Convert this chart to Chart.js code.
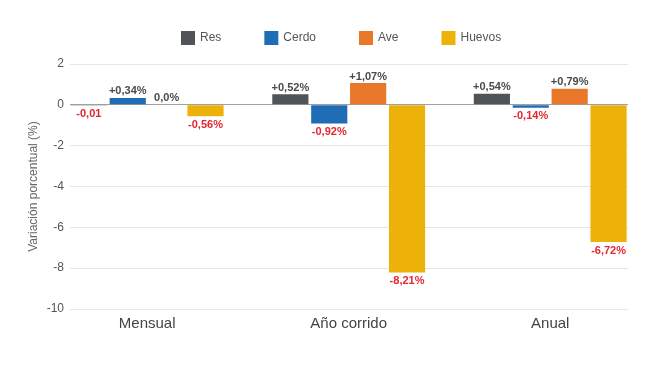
<!DOCTYPE html>
<html lang="es">
<head>
  <meta charset="UTF-8">
  <title>Variación porcentual de precios</title>
  <script src="https://cdn.jsdelivr.net/npm/chart.js"></script>
  <style>
    body { margin: 0; background: #ffffff; }
    #chart-container { width: 650px; height: 366px; }
  </style>
</head>
<body>
  <div id="chart-container">
    <canvas id="priceChart"></canvas>
  </div>
  <script>
    // Periods on the x axis
    const periods = ['Mensual', 'Año corrido', 'Anual'];

    // Percent change per product
    const res    = [-0.01, 0.52, 0.54];
    const cerdo  = [0.34, -0.92, -0.14];
    const ave    = [0.0, 1.07, 0.79];
    const huevos = [-0.56, -8.21, -6.72];

    // Labels as printed on the chart
    const resLabels    = ['-0,01', '+0,52%', '+0,54%'];
    const cerdoLabels  = ['+0,34%', '-0,92%', '-0,14%'];
    const aveLabels    = ['0,0%', '+1,07%', '+0,79%'];
    const huevosLabels = ['-0,56%', '-8,21%', '-6,72%'];

    const yTicks = [2, 0, -2, -4, -6, -8, -10];

    const FONT = "'Liberation Sans', Arial, sans-serif";

    function points(values) {
      return values.map((v, i) => ({ x: i, y: v }));
    }

    // draws value labels above positive bars and below negative ones
    const valueLabels = {
      id: 'valueLabels',
      afterDatasetsDraw(chart) {
        const ctx = chart.ctx;
        ctx.save();
        ctx.font = 'bold 11px ' + FONT;
        ctx.textAlign = 'center';
        chart.data.datasets.forEach((ds, di) => {
          const meta = chart.getDatasetMeta(di);
          meta.data.forEach((bar, i) => {
            const v = ds.data[i].y;
            const text = ds.valueLabels[i];
            if (v < 0) {
              ctx.fillStyle = '#e3262f';
              ctx.textBaseline = 'top';
              ctx.fillText(text, bar.x, bar.y + 3);
            } else {
              ctx.fillStyle = '#4a4a4a';
              ctx.textBaseline = 'bottom';
              ctx.fillText(text, bar.x, bar.y - 1);
            }
          });
        });
        ctx.restore();
      }
    };

    // legend row drawn by hand so it can sit where the original one is
    const topLegend = {
      id: 'topLegend',
      afterDraw(chart, args, opts) {
        const ctx = chart.ctx;
        ctx.save();
        ctx.font = '12px ' + FONT;
        ctx.textBaseline = 'middle';
        ctx.textAlign = 'left';
        let x = opts.x;
        chart.data.datasets.forEach(ds => {
          ctx.fillStyle = ds.backgroundColor;
          ctx.fillRect(x, opts.y - 7, 14, 14);
          ctx.fillStyle = '#555555';
          ctx.fillText(ds.label, x + 19, opts.y);
          x += 19 + ctx.measureText(ds.label).width + opts.gap;
        });
        ctx.restore();
      }
    };

    const ctx = document.getElementById('priceChart').getContext('2d');
    const priceChart = new Chart(ctx, {
      type: 'bar',
      data: {
        datasets: [
          { label: 'Res', data: points(res), valueLabels: resLabels, backgroundColor: '#505357' },
          { label: 'Cerdo', data: points(cerdo), valueLabels: cerdoLabels, backgroundColor: '#1f6db4' },
          { label: 'Ave', data: points(ave), valueLabels: aveLabels, backgroundColor: '#e8772a' },
          { label: 'Huevos', data: points(huevos), valueLabels: huevosLabels, backgroundColor: '#edb20a' }
        ]
      },
      options: {
        responsive: true,
        maintainAspectRatio: false,
        animation: false,
        categoryPercentage: 0.772,
        barPercentage: 0.93,
        layout: { padding: { top: 64, right: 22, bottom: 0, left: 0 } },
        scales: {
          x: {
            type: 'linear',
            offset: false,
            min: -0.383,
            max: 2.386,
            grid: { display: false },
            border: { display: false },
            afterBuildTicks: scale => {
              scale.ticks = periods.map((p, i) => ({ value: i }));
            },
            afterFit: scale => { scale.height = 57; },
            ticks: {
              padding: -2,
              color: '#444444',
              font: { family: FONT, size: 15 },
              callback: value => periods[value]
            }
          },
          y: {
            min: -10,
            max: 2,
            afterBuildTicks: scale => {
              scale.ticks = yTicks.map(v => ({ value: v }));
            },
            afterFit: scale => { scale.width = 70; },
            grid: {
              drawTicks: false,
              color: ctx => ctx.tick && ctx.tick.value === 0 ? '#a0a0a0' : '#e6e6e6'
            },
            border: { display: false },
            ticks: {
              padding: 6,
              color: '#555555',
              font: { family: FONT, size: 12 }
            },
            title: {
              display: true,
              text: 'Variación porcentual (%)',
              color: '#666666',
              font: { family: FONT, size: 12 },
              padding: { top: 26, bottom: 0 }
            }
          }
        },
        plugins: {
          legend: { display: false },
          tooltip: { enabled: false },
          topLegend: { x: 181, y: 38, gap: 43 }
        }
      },
      plugins: [valueLabels, topLegend]
    });
  </script>
</body>
</html>
